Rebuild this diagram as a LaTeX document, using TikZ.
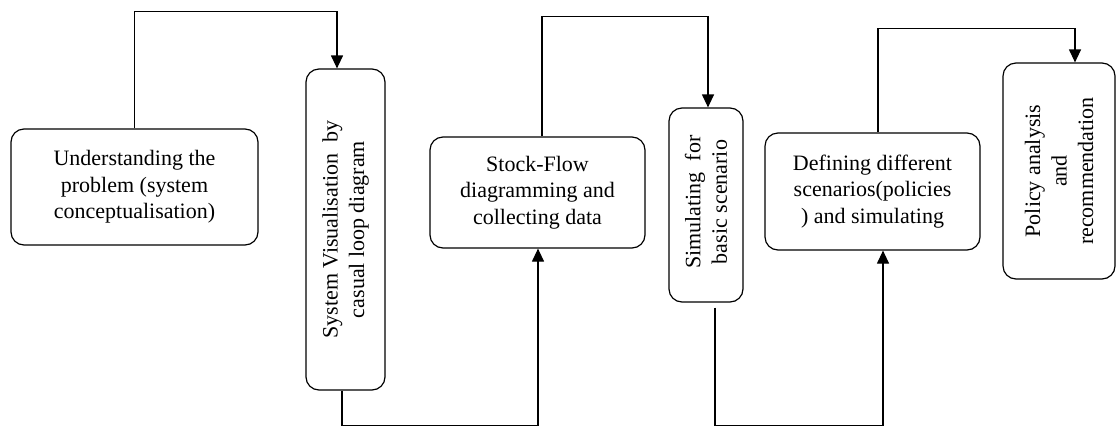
\documentclass[tikz,border=0pt]{standalone}
\usepackage{fontspec}
\setmainfont{Liberation Serif}
\usetikzlibrary{arrows.meta}
\begin{document}
\begin{tikzpicture}[x=1pt,y=-1pt,
  box/.style={draw, line width=1.2pt, rounded corners=13pt, inner sep=0pt},
  txt/.style={align=center, font=\fontsize{22}{26.5}\selectfont, inner sep=0pt},
  arr/.style={line width=1.2pt, -{Triangle[length=13pt,width=12pt]}}]
\useasboundingbox (0,0) rectangle (1116,429);
% boxes
\node[box, minimum width=247pt, minimum height=116pt] (b1) at (134.5,187) {};
\node[box, minimum width=79pt, minimum height=321pt] (b2) at (345.5,229.5) {};
\node[box, minimum width=215pt, minimum height=111pt] (b3) at (537.5,192.5) {};
\node[box, minimum width=74pt, minimum height=194pt] (b4) at (706,205) {};
\node[box, minimum width=215pt, minimum height=117pt] (b5) at (872.5,191.5) {};
\node[box, minimum width=112pt, minimum height=216pt] (b6) at (1059,171) {};
% texts
\node[txt] (t1) at (b1) {Understanding the\\problem (system\\conceptualisation)};
\node[txt, rotate=90] (t2) at (b2) {System Visualisation\ \ by\\casual loop diagram};
\node[txt] (t3) at (b3) {Stock-Flow\\diagramming and\\collecting data};
\node[txt, rotate=90] (t4) at ([yshift=3pt]b4) {Simulating\ \ for\\basic scenario};
\node[txt] (t5) at (b5) {Defining different\\scenarios(policies\\) and simulating};
\node[txt, rotate=90] (t6) at (b6) {Policy analysis\\and\\recommendation};
% connectors
\draw[arr] (b1.north) -- ++(0,-117) -| ([xshift=-8.5pt]b2.north);
\draw[arr] ([xshift=-3.5pt]b2.south) -- ++(0,35) -| ([xshift=0.5pt]b3.south);
\draw[arr] ([xshift=4.5pt]b3.north) -- ++(0,-120) -| ([xshift=2pt]b4.north);
\draw[arr] ([xshift=9pt,yshift=-5pt]b4.south) -- ++(0,118) -| ([xshift=10.5pt]b5.south);
\draw[arr] ([xshift=5.5pt]b5.north) -- ++(0,-104) -| ([xshift=16pt]b6.north);
\end{tikzpicture}
\end{document}
